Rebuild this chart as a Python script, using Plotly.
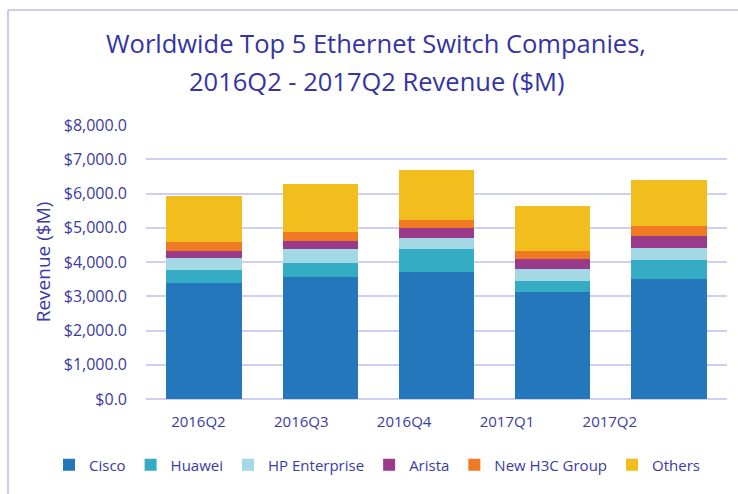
import plotly.graph_objects as go

quarters = ["2016Q2", "2016Q3", "2016Q4", "2017Q1", "2017Q2"]
cisco = [3400, 3570, 3700, 3120, 3500]
huawei = [360, 410, 670, 340, 550]
hpe = [350, 400, 320, 350, 350]
arista = [220, 240, 310, 290, 350]
h3c = [245, 245, 225, 235, 290]
others = [1360, 1400, 1460, 1300, 1350]

series = [
    ("Cisco", cisco, "#2377ba"),
    ("Huawei", huawei, "#33acc4"),
    ("HP Enterprise", hpe, "#a2d9e4"),
    ("Arista", arista, "#9a3a8b"),
    ("New H3C Group", h3c, "#f07a22"),
    ("Others", others, "#f1be1d"),
]

W, H = 738, 494
L, R, T, B = 146, 11, 125, 95
FONT = "Open Sans"
TXT = "#3a3aa6"

fig = go.Figure()
for name, vals, col in series:
    fig.add_trace(go.Bar(x=quarters, y=vals, name=name,
                         marker=dict(color=col, line=dict(width=0))))
# carrier for the (offset) category label axis
fig.add_trace(go.Scatter(x=quarters, y=[None] * len(quarters), xaxis="x2",
                         showlegend=False, hoverinfo="skip", mode="markers"))

pw = W - L - R
ph = H - T - B
def px(x):
    return (x - L) / pw
def py(y):
    return (H - B - y) / ph

title_lines = ["Worldwide Top 5 Ethernet Switch Companies,",
               "2016Q2 - 2017Q2 Revenue ($M)"]

fig.update_layout(
    width=W, height=H,
    margin=dict(l=L, r=R, t=T, b=B, autoexpand=False),
    barmode="stack",
    bargap=0.35,
    paper_bgcolor="white",
    plot_bgcolor="white",
    font=dict(family=FONT, color=TXT, size=14),
    xaxis=dict(showgrid=False, showline=False, ticks="", automargin=False,
               showticklabels=False),
    xaxis2=dict(overlaying="x", anchor="y", side="bottom", type="category",
                categoryorder="array", categoryarray=quarters,
                range=[-0.5095, 5.139], showgrid=False, showline=False,
                zeroline=False, ticks="", automargin=False,
                ticklabelstandoff=12, tickfont=dict(size=15, color=TXT)),
    yaxis=dict(range=[0, 8000], dtick=1000, tickprefix="$", tickformat=",.1f",
               showgrid=True, gridcolor="#cfcff5", gridwidth=2,
               zeroline=True, zerolinecolor="#cfcff5", zerolinewidth=2,
               showline=False, ticks="", ticklabelstandoff=18, automargin=False,
               tickfont=dict(size=16, color=TXT),
               title=dict(text="Revenue ($M)", standoff=8,
                          font=dict(size=19, color=TXT))),
    legend=dict(orientation="h", xref="paper", x=px(49), xanchor="left",
                yref="paper", y=py(465), yanchor="middle",
                font=dict(size=15, color=TXT), traceorder="normal",
                itemwidth=30, bgcolor="rgba(0,0,0,0)"),
    annotations=[
        dict(text=title_lines[0], xref="paper", yref="paper",
             x=px(376), y=py(43), xanchor="center", yanchor="middle",
             showarrow=False, font=dict(family=FONT, size=25.5, color="#3434a4")),
        dict(text=title_lines[1], xref="paper", yref="paper",
             x=px(376), y=py(81), xanchor="center", yanchor="middle",
             showarrow=False, font=dict(family=FONT, size=25.5, color="#3434a4")),
    ],
    shapes=[
        dict(type="line", xref="paper", yref="paper",
             x0=px(8), x1=px(W + 5), y0=py(10), y1=py(10),
             line=dict(color="#cfd0e2", width=2)),
        dict(type="line", xref="paper", yref="paper",
             x0=px(8), x1=px(8), y0=py(10), y1=py(H + 5),
             line=dict(color="#c9c9f2", width=2)),
    ],
)

fig.write_html("out.html", config={"displayModeBar": False},
               post_script="document.body.style.margin='0px';")
